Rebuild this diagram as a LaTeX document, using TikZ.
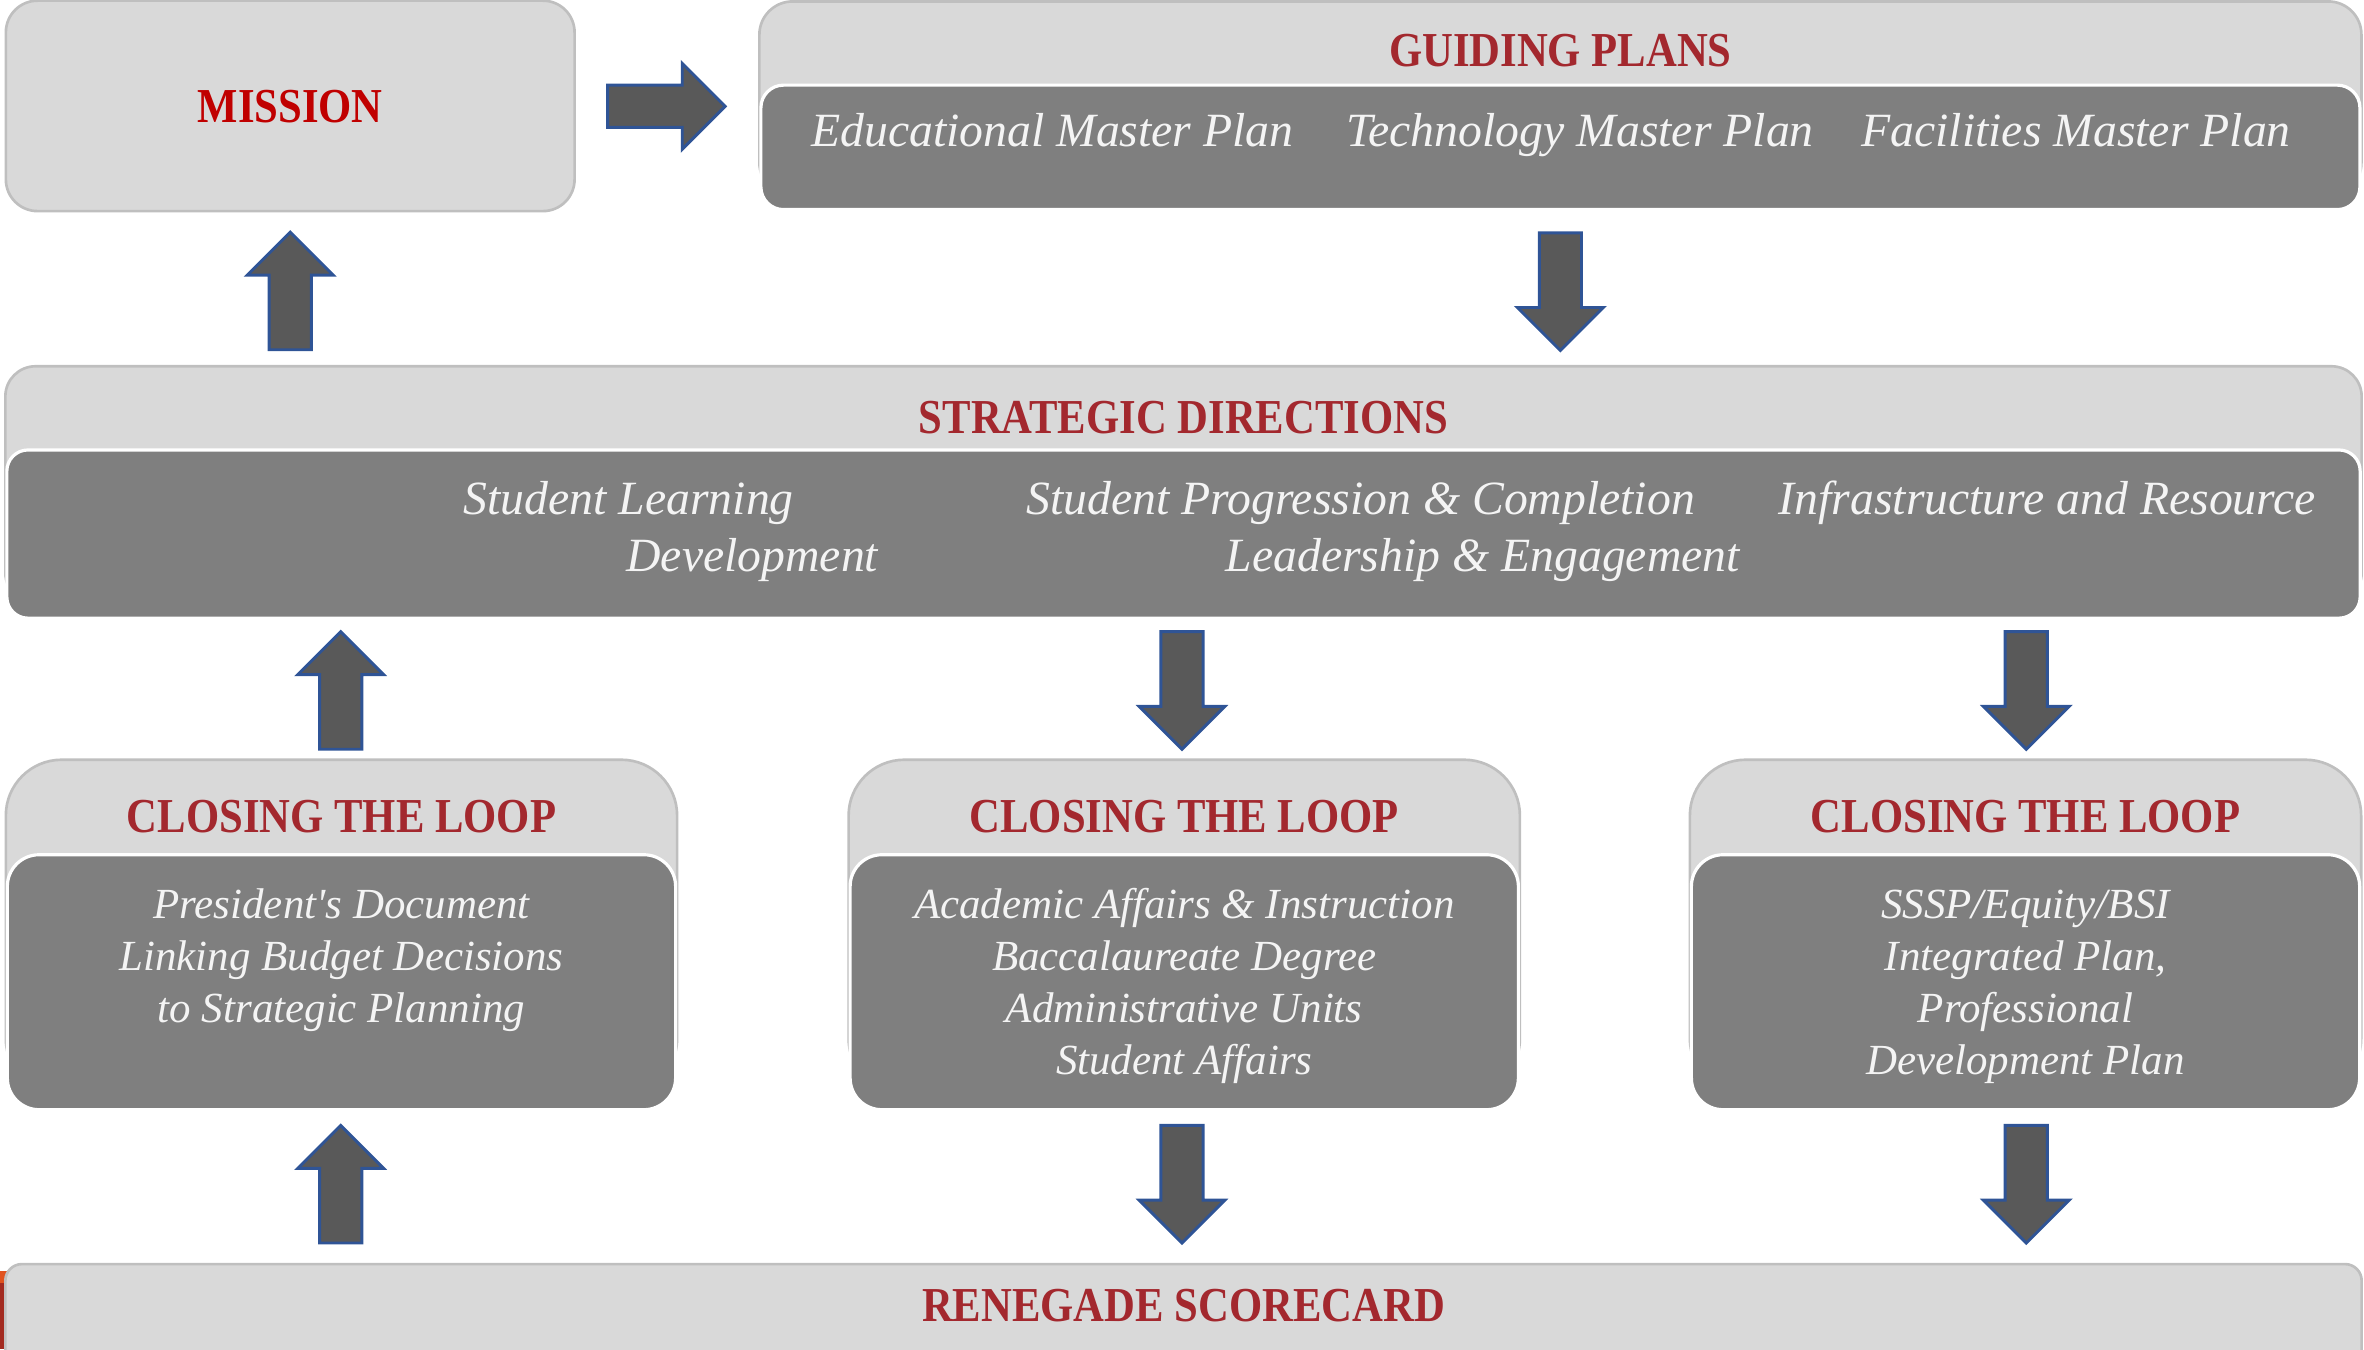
\documentclass[tikz,border=0pt]{standalone}
\usepackage{fontspec}
\setmainfont{Liberation Serif}[Ligatures=TeXOff]
\newfontfamily\hdfont{Liberation Serif}[FakeStretch=0.875]
\definecolor{lightbg}{HTML}{D9D9D9}
\definecolor{lineg}{HTML}{BFBFBF}
\definecolor{darkbg}{HTML}{7F7F7F}
\definecolor{misred}{HTML}{C00000}
\definecolor{hdred}{HTML}{A3282E}
\definecolor{txtw}{HTML}{F4F4F4}
\definecolor{arrfill}{HTML}{595959}
\definecolor{arrline}{HTML}{2F5496}
\definecolor{stripa}{HTML}{E0521E}
\definecolor{stripb}{HTML}{A32A20}
\begin{document}
\begin{tikzpicture}[x=0.01cm,y=-0.01cm,
  outerbox/.style={draw=lineg, line width=0.5pt, fill=lightbg, inner sep=0pt},
  innerbox/.style={draw=white, line width=0.6pt, fill=darkbg, inner sep=0pt},
  hdr/.style={font=\hdfont\bfseries\fontsize{9.2}{11}\selectfont, text=hdred, anchor=base, inner sep=0pt},
  itl/.style={font=\itshape\fontsize{9}{11}\selectfont, text=txtw, anchor=base, inner sep=0pt},
  itls/.style={font=\itshape\fontsize{8.1}{10}\selectfont, text=txtw, anchor=base, inner sep=0pt},
  arrowst/.style={fill=arrfill, draw=arrline, line width=0.55pt, line join=miter},
  blkarrow/.pic={\draw[arrowst] (-39,-14) -- (10.5,-14) -- (10.5,-28.5) -- (39,0) -- (10.5,28.5) -- (10.5,14) -- (-39,14) -- cycle;}
]
\useasboundingbox (0,0) rectangle (1568,895);
\clip (0,0) rectangle (1568,895);

% MISSION
\node[outerbox, rounded corners=0.21cm, minimum width=3.77cm, minimum height=1.395cm] (mission) at (192.5,70.25) {};
\node[hdr, text=misred] (missiont) at (192.5,81) {MISSION};

% GUIDING PLANS
\node[outerbox, rounded corners=0.22cm, minimum width=10.62cm, minimum height=1.29cm] (guide) at (1035,65.5) {};
\node[innerbox, rounded corners=0.15cm, minimum width=10.60cm, minimum height=0.825cm] (guidein) at (1035,97.75) {};
\node[hdr] (guidet) at (1035,44) {GUIDING PLANS};
\node[itl] (gp1) at (698,97.5) {Educational Master Plan};
\node[itl] (gp2) at (1048,97.5) {Technology Master Plan};
\node[itl] (gp3) at (1377,97.5) {Facilities Master Plan};

% STRATEGIC DIRECTIONS
\node[outerbox, rounded corners=0.2cm, minimum width=15.62cm, minimum height=1.57cm] (strat) at (785,321.5) {};
\node[innerbox, rounded corners=0.14cm, minimum width=15.60cm, minimum height=1.115cm] (stratin) at (785,354.25) {};
\node[hdr] (stratt) at (785,287.5) {STRATEGIC DIRECTIONS};
\node[itl] (sd1) at (417,341.6) {Student Learning};
\node[itl] (sd2) at (499,379) {Development};
\node[itl] (sd3) at (902.5,341.6) {Student Progression \& Completion};
\node[itl] (sd4) at (983.5,379) {Leadership \& Engagement};
\node[itl] (sd5) at (1358,341.6) {Infrastructure and Resource};

% CLOSING THE LOOP boxes
\node[outerbox, rounded corners=0.37cm, minimum width=4.45cm, minimum height=2.22cm] (cl1) at (226.5,615) {};
\node[innerbox, rounded corners=0.21cm, minimum width=4.43cm, minimum height=1.69cm] (cl1in) at (226.5,651.5) {};
\node[hdr] (cl1t) at (226.5,552) {CLOSING THE LOOP};
\node[itls] (c1a) at (226.5,609.5) {President's Document};
\node[itls] (c1b) at (226.5,644) {Linking Budget Decisions};
\node[itls] (c1c) at (226.5,678.5) {to Strategic Planning};

\node[outerbox, rounded corners=0.37cm, minimum width=4.45cm, minimum height=2.22cm] (cl2) at (785.5,615) {};
\node[innerbox, rounded corners=0.21cm, minimum width=4.43cm, minimum height=1.69cm] (cl2in) at (785.5,651.5) {};
\node[hdr] (cl2t) at (785.5,552) {CLOSING THE LOOP};
\node[itls] (c2a) at (785.5,609.5) {Academic Affairs \& Instruction};
\node[itls] (c2b) at (785.5,644) {Baccalaureate Degree};
\node[itls] (c2c) at (785.5,678.5) {Administrative Units};
\node[itls] (c2d) at (785.5,713) {Student Affairs};

\node[outerbox, rounded corners=0.37cm, minimum width=4.45cm, minimum height=2.22cm] (cl3) at (1343.5,615) {};
\node[innerbox, rounded corners=0.21cm, minimum width=4.43cm, minimum height=1.69cm] (cl3in) at (1343.5,651.5) {};
\node[hdr] (cl3t) at (1343.5,552) {CLOSING THE LOOP};
\node[itls] (c3a) at (1343.5,609.5) {SSSP/Equity/BSI};
\node[itls] (c3b) at (1343.5,644) {Integrated Plan,};
\node[itls] (c3c) at (1343.5,678.5) {Professional};
\node[itls] (c3d) at (1343.5,713) {Development Plan};

% RENEGADE SCORECARD
\fill[stripa] (0,843) rectangle (4.5,851);
\fill[stripb] (0,851) rectangle (4.5,895);
\node[outerbox, rounded corners=0.11cm, minimum width=15.62cm, minimum height=1.2cm] (score) at (785,898.5) {};
\node[hdr] (scoret) at (785,876.5) {RENEGADE SCORECARD};

% block arrows
\pic (amr) at (442,70.5) {blkarrow};
\pic[rotate=90] (amu) at (192.5,193) {blkarrow};
\pic[rotate=-90] (agd) at (1035,193.5) {blkarrow};
\pic[rotate=90] (asu) at (226,458) {blkarrow};
\pic[rotate=-90] (asd1) at (784,458) {blkarrow};
\pic[rotate=-90] (asd2) at (1344,458) {blkarrow};
\pic[rotate=90] (abu) at (226,785.5) {blkarrow};
\pic[rotate=-90] (abd1) at (784,785.5) {blkarrow};
\pic[rotate=-90] (abd2) at (1344,785.5) {blkarrow};
\end{tikzpicture}
\end{document}
